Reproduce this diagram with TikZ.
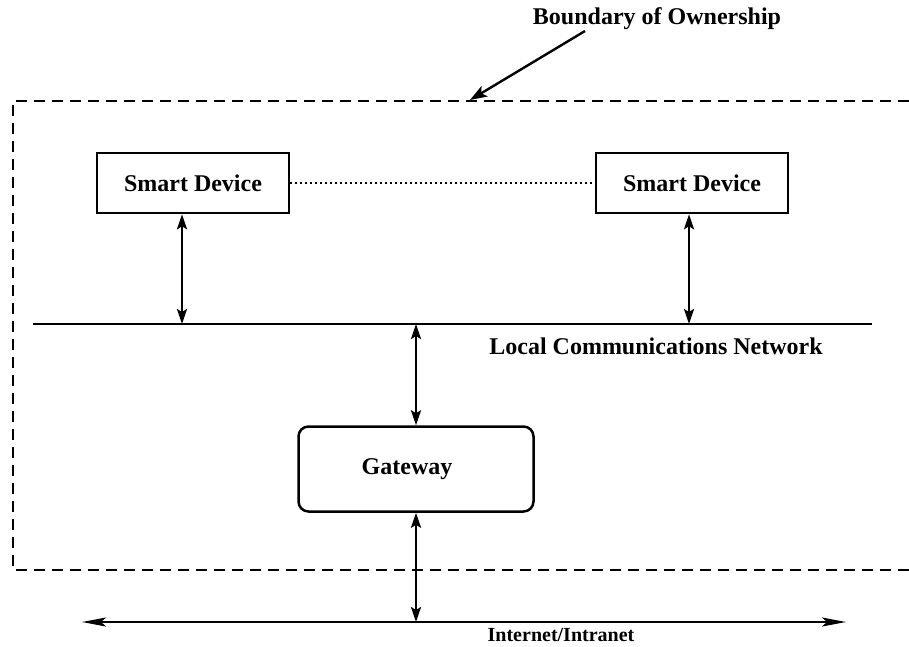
\documentclass[tikz,border=0pt]{standalone}
\usepackage{fontspec}
\setmainfont{Liberation Serif}
\usetikzlibrary{arrows.meta}
\tikzset{
  lbl/.style={font=\fontsize{24}{27}\selectfont\bfseries, inner sep=0pt},
  devbox/.style={draw, line width=2.5pt, minimum width=192pt, minimum height=60pt, lbl},
  gatebox/.style={draw, line width=2.5pt, rounded corners=10pt, minimum width=235pt, minimum height=85pt, lbl},
  link/.style={line width=2.4pt, {Stealth[length=15pt,width=10pt,inset=3pt]}-{Stealth[length=15pt,width=10pt,inset=3pt]}},
  bus/.style={line width=2.8pt},
  boundary/.style={line width=2.5pt, dash pattern=on 11pt off 7pt},
}
\begin{document}
\begin{tikzpicture}[x=1pt,y=-1pt]
\useasboundingbox (0,0) rectangle (909,646);

% ownership boundary (open on the right)
\draw[boundary] (909,101) -- (13,101) -- (13,570) -- (909,570);
\node[lbl] (own) at (657,19) {Boundary of Ownership};
\coordinate (ownTip) at (470,100);
\draw[line width=2.4pt, -{Stealth[length=17pt,width=12pt,inset=4pt]}] (585,31) -- (ownTip);

% devices
\node[devbox] (dev1) at (193,183) {Smart Device};
\node[devbox] (dev2) at (692,183) {Smart Device};
\draw[line width=1.8pt, dash pattern=on 2pt off 3pt] (dev1.east) -- (dev2.west);

% local network bus
\coordinate (lanL) at (33,324);
\coordinate (lanR) at (872,324);
\draw[bus] (lanL) -- (lanR);
\node[lbl] (lanlbl) at (656,346) {Local Communications Network};
\coordinate (lan1) at (182,324);
\coordinate (lan2) at (689,324);
\coordinate (lan3) at (416,324);
\draw[link] (dev1.south -| lan1) -- (lan1);
\draw[link] (dev2.south -| lan2) -- (lan2);

% gateway
\node[gatebox] (gw) at (416,469) {\hspace*{-18pt}Gateway};
\draw[link] (lan3) -- (gw.north -| lan3);

% internet / intranet
\coordinate (netL) at (82,622);
\coordinate (netR) at (846,622);
\draw[line width=2.4pt, {Stealth[length=24pt,width=9pt,inset=5pt]}-{Stealth[length=24pt,width=9pt,inset=5pt]}] (netL) -- (netR);
\coordinate (net3) at (416,622);
\draw[link] (gw.south -| net3) -- (net3);
\node[font=\fontsize{20}{22}\selectfont\bfseries, inner sep=0pt] (netlbl) at (561,635) {Internet/Intranet};
\end{tikzpicture}
\end{document}
